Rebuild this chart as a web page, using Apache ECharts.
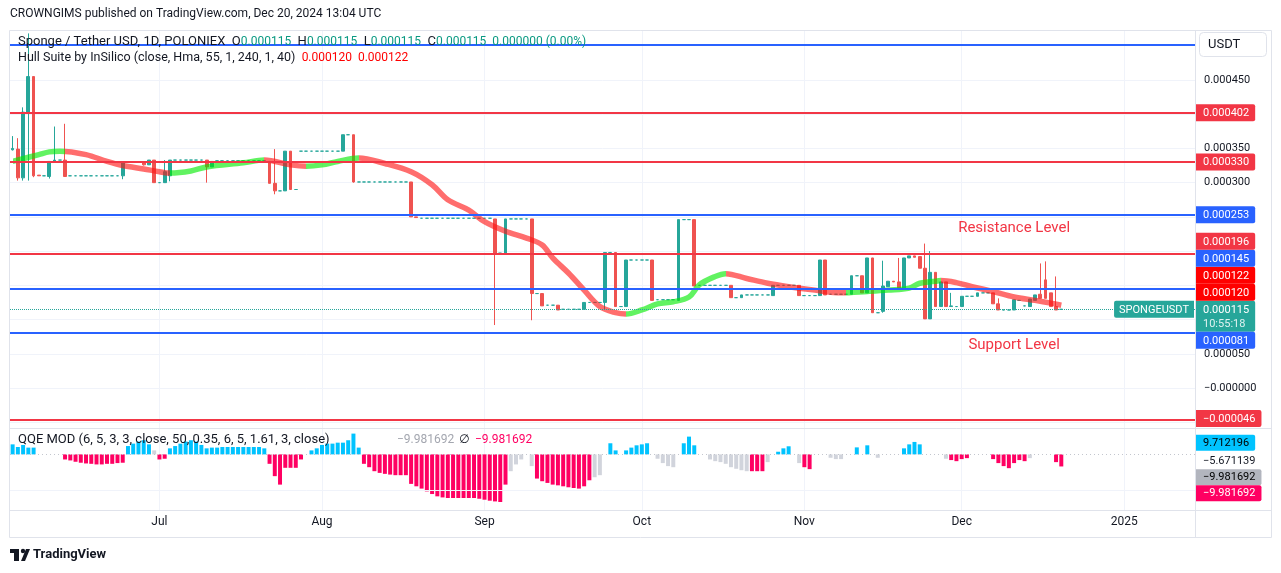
<!DOCTYPE html>
<html><head><meta charset="utf-8">
<script src="https://cdn.jsdelivr.net/npm/echarts@6/dist/echarts.min.js"></script>
<style>html,body{margin:0;padding:0;background:#fff;}#c{width:1281px;height:573px;}</style>
</head><body><div id="c"></div>
<script>
// ---------------- DATA (prices in micro-USDT, i.e. value x 1e-6) ----------------
const firstDay = '2024-06-03';
const dayCount = 226;
const timeTicks = {'2024-07-01':'Jul','2024-08-01':'Aug','2024-09-01':'Sep','2024-10-01':'Oct','2024-11-01':'Nov','2024-12-01':'Dec','2025-01-01':'2025'};
// daily candles: [open, high, low, close]; a single number = flat bar (O=H=L=C)
const ohlc = [
 [348,368,347,350],[349,365,303,307],[307,410,303,403],[403,518,303,455],[455,455,308,310],
 [311,311,310,310],310,[309,331,306,331],[331,382,331,333],333,
 [333,386,309,309],310,310,310,310,310,310,310,310,310,
 310,[310,330,305,330],330,330,330,[330,330,325,326],[326,333,326,333],[333,333,300,300],300,[300,333,300,316],
 [310,333,302,333],333,333,333,333,333,333,[333,333,300,323],[323,331,323,331],332,
 332,332,332,332,332,332,332,332,332,[331,331,299,299],
 [299,349,283,288],288,[288,346,288,346],[346,346,290,290],290,346,346,346,346,346,
 346,346,346,[346,370,346,370],370,[370,370,300,301],301,301,301,301,
 301,301,301,301,301,301,[301,301,250,250],[250,250,249,249],248,248,
 248,248,248,248,248,248,248,248,248,248,
 248,248,[247,247,92,197],197,[197,247,197,247],247,247,247,247,[247,247,99,138],
 138,[138,138,120,120],121,121,[121,121,114,114],115,115,115,115,[115,125,115,125],
 125,125,125,[125,198,114,198],198,[198,198,119,119],119,[119,187,119,187],187,187,
 187,187,[187,187,128,128],129,129,129,129,[128,246,128,246],246,246,
 [246,246,149,149],150,150,150,150,150,150,[150,150,132,132],132,[132,136,132,136],
 136,136,136,136,136,[135,150,135,150],150,150,150,150,
 [150,150,135,135],135,135,135,[135,187,135,187],[187,187,136,136],137,137,137,137,
 [137,164,137,164],164,[164,164,139,139],[139,190,139,190],[190,190,110,110],110,[112,186,110,149],[148,156,148,156],[156,156,155,155],[155,190,144,144],
 [144,190,144,190],[190,193,190,193],[193,193,191,191],[192,192,175,175],[175,211,101,101],[101,200,101,169],[169,169,119,119],[119,155,119,155],[155,155,119,119],[119,139,119,120],
 119,[119,134,119,134],134,134,[134,139,134,139],139,139,[139,139,123,123],[123,131,114,114],114,
 114,[114,129,114,129],128,120,[119,130,119,130],[128,136,128,136],[137,182,131,131],[158,185,131,131],[139,139,119,119],[119,163,114,114],
 115
];
// Hull Suite ribbon: [day index, value]
const hullPoints = [[0,331],[5,341],[7,345],[9,346],[14,341],[18,331],[21,325],[25,320],[28,316],[30,314],[34,317],[37,323],[44,329],[48,333],[53,326],[56,324],[59,326],[62,331],[66,336],[71,328],[76,316],[80,297],[83,275],[87,260],[90,243],[94,229],[98,219],[101,209],[103,190],[106,168],[109,143],[112,119],[115,110],[117,108],[120,114],[123,123],[126,126],[129,133],[131,151],[134,163],[136,167],[140,160],[144,153],[148,148],[153,143],[158,139],[163,141],[167,143],[171,146],[173,153],[176,156],[177,157],[180,154],[183,148],[187,141],[191,133],[195,128],[198,124],[200,121]];
// day indices where Hull trend flips
const hullTurns = [10,30,48,56,66,117,136,159,177];
const hullLast = [120,122];
// horizontal level lines
const levelsBlue = [501,253,145,81];
const levelsRed = [402,330,196,-46];
const lastPrice = 115;
const priceTickLabels = [[450,'0.000450'],[350,'0.000350'],[300,'0.000300'],[50,'0.000050'],[0,'\u22120.000000']];
// QQE MOD histogram
const qqeHist = [
 8.3,6.1,7.8,5.6,5.6,null,null,null,null,null,
 -4.2,-5,-6.1,-6.9,-7.5,-7.8,-8.3,-8.3,-7.8,-7.8,
 -7.2,-6.9,6.9,8.9,10.6,11.7,8.3,3.3,-4.2,-3.6,
 5,6.9,8.9,10.6,11.7,10.6,7.8,5,5.6,5.6,
 6.1,6.1,6.1,6.1,6.1,6.1,6.1,6.1,5,-7.8,
 -18,-25,-11.1,-11.1,-11.1,-4.2,null,3.3,5,7.8,
 8.9,8.9,9.7,9.7,11.7,17.2,5.6,-7.8,-10.6,-13.9,
 -15.3,-16.1,-16.7,-17.2,-17.2,-17.2,-24.4,-26.4,-28.3,-30.6,
 -32.8,-34.7,-35.6,-36.1,-36.1,-36.1,-36.1,-36.1,-36.1,-36.7,
 -37.5,-38.3,-38.9,-39.4,-25,-13.9,-8.3,-4.2,null,-9.7,
 -20,-22.2,-23.6,-25,-25.6,-26.4,-27.2,-27.8,-28.3,-26.4,
 -21.4,-18.9,-17.2,null,9.2,3.3,null,3.3,5.6,7.5,
 8.3,9.2,null,-3.6,-7.2,-9.7,-10.6,null,9.2,14.7,
 7.5,null,null,-4.2,-5.6,-6.4,-7.8,-10.6,-11.9,-13.1,
 -13.9,-13.9,-13.9,-13.9,-6.4,null,2.2,5,6.7,null,
 -7.2,-10.6,-12.2,null,null,null,-2.8,-3.9,-3.9,null,
 null,5.8,null,7.5,null,-2.8,null,null,null,null,
 5,8.3,10.3,8.3,null,null,null,null,-3.6,-4.7,
 -5.6,-3.9,-3.1,null,null,null,null,-3.9,-7.2,-9.7,
 -11.4,-7.2,-4.7,-5.6,-3.1,null,null,null,null,-6.4,
 -9.981692
];
const qqeNeutral = [27,95,96,97,99,111,112,123,124,125,126,133,134,135,136,137,138,139,140,144,150,156,157,158,165,178,194];
const qqeTags = [9.712196,-5.671139,-9.981692,-9.981692];

// ---------------- STYLE ----------------
const FONT = 'Roboto, "Noto Sans", "DejaVu Sans", sans-serif';
const UP = '#26a69a', DOWN = '#ef5350', RED = '#f23645', BLUE = '#2962ff', TXT = '#131722';
const GREEN_R = 'rgba(0,235,0,0.62)', RED_R = 'rgba(255,20,20,0.62)';
const QB = '#00c3ff', QP = '#ff0062', QG = '#d1d4dc';

const categories = [];
{ const t0 = Date.parse(firstDay + 'T00:00:00Z');
  for (let i = 0; i < dayCount; i++) categories.push(new Date(t0 + i * 86400000).toISOString().slice(0, 10)); }
const isTick = (i, v) => timeTicks[v] !== undefined;
const fmtP = v => (v < 0 ? '\u2212' : '') + (Math.abs(v) / 1e6).toFixed(6);

const candleData = ohlc.map(r => { const a = typeof r === 'number' ? [r, r, r, r] : r; return [a[0], a[3], a[2], a[1]]; });

const pieces = [];
{ let prev = 0; const b = hullTurns.concat([dayCount]);
  b.forEach((t, k) => { pieces.push({gte: prev, lt: t, color: k % 2 === 0 ? GREEN_R : RED_R}); prev = t; }); }

const qqeData = qqeHist.map((v, i) => v == null ? '-' : {value: v, itemStyle: {color: qqeNeutral.indexOf(i) >= 0 ? QG : (v > 0 ? QB : QP)}});

const levelMarks = levelsBlue.map(v => ({yAxis: v, lineStyle: {color: BLUE, width: 2, type: 'solid'}}))
  .concat(levelsRed.map(v => ({yAxis: v, lineStyle: {color: RED, width: 2, type: 'solid'}})))
  .concat([{yAxis: lastPrice, lineStyle: {color: UP, width: 1, type: 'dotted'}}]);

const chart = echarts.init(document.getElementById('c'));
chart.setOption({
  animation: false,
  backgroundColor: '#ffffff',
  grid: [
    {left: 10, right: 86, top: 30, height: 398},
    {left: 10, right: 86, top: 429, height: 81}
  ],
  xAxis: [
    {type: 'category', gridIndex: 0, data: categories, axisLine: {show: false}, axisTick: {show: false}, axisLabel: {show: false},
     splitLine: {show: true, interval: isTick, alignWithLabel: true, lineStyle: {color: '#f0f3fa'}}},
    {type: 'category', gridIndex: 1, data: categories, axisLine: {show: false}, axisTick: {show: false},
     axisLabel: {show: true, interval: isTick, formatter: v => timeTicks[v] || '', color: TXT, fontSize: 12, fontFamily: FONT, margin: 6},
     splitLine: {show: true, interval: isTick, alignWithLabel: true, lineStyle: {color: '#f0f3fa'}}}
  ],
  yAxis: [
    {type: 'value', gridIndex: 0, position: 'right', min: -58.4, max: 523, splitNumber: 12, scale: false,
     axisLine: {show: false}, axisTick: {show: false}, splitLine: {lineStyle: {color: '#f0f3fa'}},
     axisLabel: {color: TXT, fontSize: 11, fontFamily: FONT, margin: 9,
       formatter: v => { const f = priceTickLabels.find(p => Math.abs(p[0] - v) < 0.01); return f ? f[1] : ''; }}},
    {type: 'value', gridIndex: 1, position: 'right', min: -46, max: 21, axisLine: {show: false}, axisTick: {show: false},
     axisLabel: {show: false}, splitLine: {show: false}}
  ],
  visualMap: {show: false, type: 'piecewise', seriesIndex: 1, dimension: 0, pieces: pieces},
  series: [
    {type: 'candlestick', xAxisIndex: 0, yAxisIndex: 0, data: candleData, barWidth: '62%', z: 2, clip: true,
     itemStyle: {color: UP, color0: DOWN, borderColor: UP, borderColor0: DOWN, borderColorDoji: UP, borderWidth: 1}},
    {type: 'line', xAxisIndex: 0, yAxisIndex: 0, data: hullPoints, smooth: 0.35, showSymbol: false, z: 3,
     lineStyle: {width: 5.5}},
    {type: 'line', xAxisIndex: 0, yAxisIndex: 0, data: [], z: 4,
     markLine: {silent: true, symbol: ['none', 'none'], label: {show: false}, data: levelMarks}},
    {type: 'bar', xAxisIndex: 1, yAxisIndex: 1, data: qqeData, barWidth: '76%', z: 2,
     markLine: {silent: true, symbol: ['none', 'none'], label: {show: false},
       data: [{yAxis: 0, lineStyle: {color: '#c3c6ce', width: 1, type: [1, 3]}},
              {yAxis: -30, lineStyle: {color: '#f0f3fa', width: 1, type: 'solid'}}]}}
  ]
});

// ---------------- overlays: tags, legends, frame ----------------
const ctx = document.createElement('canvas').getContext('2d');
const tw = (t, f) => { ctx.font = f; return ctx.measureText(t).width; };
const F11 = '11px ' + FONT, F12 = '12px ' + FONT, F13 = '13px ' + FONT, F125 = '12.5px ' + FONT;
const G = [];
function txt(x, y, text, fill, font, align) {
  G.push({type: 'text', x: x, y: y, z: 100, silent: true,
    style: {text: text, fill: fill, font: font, align: align || 'left', verticalAlign: 'middle', textAlign: align || 'left', textVerticalAlign: 'middle'}});
}
function tag(cy, text, bg, fg, h, x0, font) {
  const f = font || F11; const w = tw(text, f) + 13;
  G.push({type: 'rect', z: 99, silent: true, shape: {x: x0 || 1196, y: cy - h / 2, width: w, height: h, r: [0, 2, 2, 0]}, style: {fill: bg}});
  txt((x0 || 1196) + 7, cy + 0.5, text, fg, f);
}
// frame
const LC = '#e0e3eb';
G.push({type: 'rect', z: 90, silent: true, shape: {x: 9.5, y: 30.5, width: 1262, height: 507}, style: {fill: 'none', stroke: LC, lineWidth: 1}});
G.push({type: 'line', z: 90, silent: true, shape: {x1: 1195.5, y1: 30, x2: 1195.5, y2: 538}, style: {stroke: LC, lineWidth: 1}});
G.push({type: 'line', z: 90, silent: true, shape: {x1: 9.5, y1: 428.5, x2: 1272, y2: 428.5}, style: {stroke: LC, lineWidth: 1}});
G.push({type: 'line', z: 90, silent: true, shape: {x1: 9.5, y1: 510.5, x2: 1272, y2: 510.5}, style: {stroke: LC, lineWidth: 1}});
// USDT box
G.push({type: 'rect', z: 95, silent: true, shape: {x: 1199.5, y: 32.5, width: 67, height: 24, r: 4}, style: {fill: '#fff', stroke: LC, lineWidth: 1}});
txt(1208, 45, 'USDT', TXT, '13px ' + FONT);
// title
txt(10, 14, 'CROWNGIMS published on TradingView.com, Dec 20, 2024 13:04 UTC', TXT, F12);
// legends
const last = candleData[candleData.length - 1];
const P = fmtP(last[1]);
G.push({type: 'text', x: 18, y: 42, z: 100, silent: true, style: {
  text: '{d|Sponge / Tether USD, 1D, POLONIEX  O}{v|' + P + '}{d|  H}{v|' + fmtP(last[3]) + '}{d|  L}{v|' + fmtP(last[2]) + '}{d|  C}{v|' + P + '}{v|  0.000000 (0.00%)}',
  verticalAlign: 'middle', textVerticalAlign: 'middle',
  rich: {d: {fill: TXT, font: F13}, v: {fill: '#089981', font: F12}}}});
G.push({type: 'text', x: 18, y: 58, z: 100, silent: true, style: {
  text: '{d|Hull Suite by InSilico (close, Hma, 55, 1, 240, 1, 40)  }{r|' + fmtP(hullLast[0]) + '  ' + fmtP(hullLast[1]) + '}',
  verticalAlign: 'middle', textVerticalAlign: 'middle',
  rich: {d: {fill: TXT, font: F125}, r: {fill: '#ff0000', font: F12}}}});
txt(18, 440, 'QQE MOD (6, 5, 3, 3, close, 50, 0.35, 6, 5, 1.61, 3, close)', TXT, F13);
txt(397, 440, qqeTags[2].toFixed(6).replace('-', '\u2212'), '#a3a6af', F12);
txt(459, 440, '\u2205', TXT, F12);
txt(475, 440, qqeTags[3].toFixed(6).replace('-', '\u2212'), QP, F12);

// annotations
const p1 = chart.convertToPixel({gridIndex: 0}, [191, 234]);
txt(p1[0], p1[1], 'Resistance Level', RED, '15px ' + FONT, 'center');
const p2 = chart.convertToPixel({gridIndex: 0}, [191, 63]);
txt(p2[0], p2[1], 'Support Level', RED, '15px ' + FONT, 'center');

// price tags with de-overlap around the last-price tag
const yP = v => chart.convertToPixel({yAxisIndex: 0}, v);
const H = 17;
const yc = yP(lastPrice);
const boxTop = yc - H / 2, boxBot = boxTop + 31;
G.push({type: 'rect', z: 99, silent: true, shape: {x: 1196, y: boxTop, width: tw(fmtP(lastPrice), F11) + 13, height: 31, r: [0, 2, 2, 0]}, style: {fill: UP}});
txt(1203, yc + 0.5, fmtP(lastPrice), '#fff', F11);
txt(1203, yc + 14.5, '10:55:18', 'rgba(255,255,255,0.85)', F11);
// symbol label
{ const w = tw('SPONGEUSDT', F11) + 10;
  G.push({type: 'rect', z: 99, silent: true, shape: {x: 1194 - w, y: yc - H / 2, width: w, height: H, r: [2, 0, 0, 2]}, style: {fill: UP}});
  txt(1194 - w / 2, yc + 0.5, 'SPONGEUSDT', '#fff', F11, 'center'); }
const tags = [];
levelsBlue.forEach(v => { if (v < 450) tags.push({v: v, c: BLUE}); });
levelsRed.forEach(v => tags.push({v: v, c: RED}));
hullLast.forEach(v => tags.push({v: v, c: '#ff0000'}));
const above = tags.filter(t => t.v > lastPrice).sort((a, b) => a.v - b.v);
const below = tags.filter(t => t.v < lastPrice).sort((a, b) => b.v - a.v);
let lim = boxTop;
above.forEach(t => { const cy = Math.min(yP(t.v), lim - H / 2); tag(cy, fmtP(t.v), t.c, '#fff', H); lim = cy - H / 2; });
lim = boxBot;
below.forEach(t => { let cy = Math.max(yP(t.v), lim + H / 2); cy = Math.min(cy, 428 - H / 2 - 1); tag(cy, fmtP(t.v), t.c, '#fff', H); lim = cy + H / 2; });

// QQE tags
const yQ = v => chart.convertToPixel({yAxisIndex: 1}, v);
const HQ = 16;
let qlim = -1e9;
const qStyles = [[QB, '#000'], [null, TXT], ['#b2b5be', '#000'], [QP, '#fff']];
qqeTags.forEach((v, k) => {
  const cy = Math.max(yQ(v), qlim + HQ / 2);
  const s = qStyles[k]; const t = v.toFixed(6).replace('-', '\u2212');
  if (s[0]) tag(cy, t, s[0], s[1], HQ); else txt(1203, cy + 0.5, t, s[1], F11);
  qlim = cy + HQ / 2;
});

// TradingView logo
G.push({type: 'rect', z: 100, silent: true, shape: {x: 10, y: 549, width: 9, height: 4}, style: {fill: TXT}});
G.push({type: 'rect', z: 100, silent: true, shape: {x: 14, y: 549, width: 5, height: 12}, style: {fill: TXT}});
G.push({type: 'circle', z: 100, silent: true, shape: {cx: 23, cy: 551, r: 2.2}, style: {fill: TXT}});
G.push({type: 'polygon', z: 100, silent: true, shape: {points: [[21, 561], [26, 549], [30, 549], [25, 561]]}, style: {fill: TXT}});
txt(33, 555, 'TradingView', TXT, 'bold 13px ' + FONT);

chart.setOption({graphic: {elements: G}});
</script>
</body></html>
